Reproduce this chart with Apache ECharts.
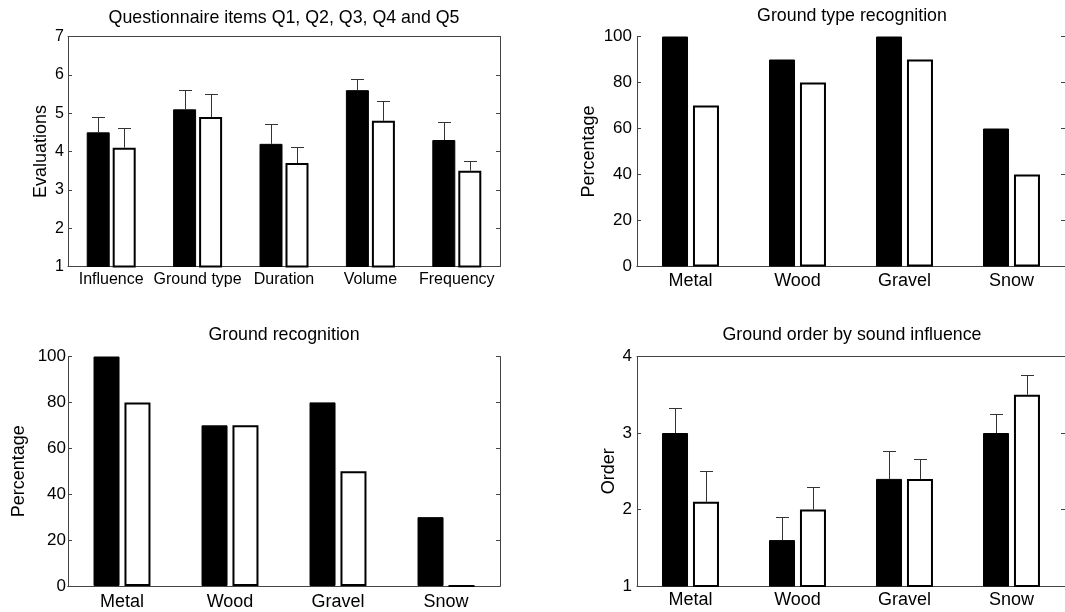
<!DOCTYPE html>
<html><head><meta charset="utf-8">
<script src="https://cdn.jsdelivr.net/npm/echarts@6/dist/echarts.min.js"></script>
<style>html,body{margin:0;padding:0;background:#fff}#c{width:1065px;height:612px}</style>
</head><body><div id="c"></div>
<script>
// ---- data ----
const q5Categories = ['Influence', 'Ground type', 'Duration', 'Volume', 'Frequency'];
const q5Black = [4.5, 5.1, 4.2, 5.6, 4.3];
const q5BlackErr = [0.4, 0.5, 0.52, 0.3, 0.48];
const q5White = [4.1, 4.9, 3.7, 4.8, 3.5];
const q5WhiteErr = [0.52, 0.6, 0.43, 0.53, 0.25];

const grounds = ['Metal', 'Wood', 'Gravel', 'Snow'];
const typeRecBlack = [100, 90, 100, 60];
const typeRecWhite = [70, 80, 90, 40];
const groundRecBlack = [100, 70, 80, 30];
const groundRecWhite = [80, 70, 50, 0];
const orderBlack = [3.0, 1.6, 2.4, 3.0];
const orderBlackErr = [0.33, 0.3, 0.37, 0.25];
const orderWhite = [2.1, 2.0, 2.4, 3.5];
const orderWhiteErr = [0.4, 0.29, 0.26, 0.26];

const panelTitles = ['Questionnaire items Q1, Q2, Q3, Q4 and Q5', 'Ground type recognition', 'Ground recognition', 'Ground order by sound influence'];
const yNames = ['Evaluations', 'Percentage', 'Percentage', 'Order'];
const yMin = [1, 0, 0, 1];
const yMax = [7, 100, 100, 4];
const yInterval = [1, 20, 20, 1];

// ---- layout / style ----
const FONT = '"Liberation Sans", Arial, Helvetica, sans-serif';
const AX = '#444';
const grids = [
  {left: 68, top: 36.5, width: 432, height: 230},
  {left: 637, top: 36.5, width: 430, height: 230},
  {left: 68, top: 356.5, width: 432, height: 229.5},
  {left: 637, top: 356.5, width: 430, height: 229.5}
];
const barW = [23, 26, 26, 26];
const barGapPct = [13, 19, 19, 19];
const xLabelSize = [16, 18, 18, 18];
const xLabelMargin = [5, 6, 7, 5];
const yLabelSize = [16, 17, 17, 17];
const yLabelMargin = [4, 5, 2, 5];
const nameGaps = [18, 39, 40, 19];
const titleTops = [9, 7.5, 326.5, 326.5];

const cats = [q5Categories, grounds, grounds, grounds];
const blacks = [q5Black, typeRecBlack, groundRecBlack, orderBlack];
const whites = [q5White, typeRecWhite, groundRecWhite, orderWhite];
const blackErrs = [q5BlackErr, null, null, orderBlackErr];
const whiteErrs = [q5WhiteErr, null, null, orderWhiteErr];

const xAxes = [], yAxes = [], series = [], titles = [];

function errRenderer(sign, w, gapPx) {
  return function (params, api) {
    const i = api.value(0);
    const base = api.coord([i, api.value(1)]);
    const top = api.coord([i, api.value(2)]);
    const cx = Math.round(base[0] + sign * (w + gapPx) / 2) + 0.5;
    const ty = Math.round(top[1]) + 0.5;
    const st = {stroke: '#333', lineWidth: 1};
    return {type: 'group', children: [
      {type: 'line', shape: {x1: cx, y1: base[1], x2: cx, y2: ty}, style: st},
      {type: 'line', shape: {x1: cx - 6.5, y1: ty, x2: cx + 6.5, y2: ty}, style: st}
    ]};
  };
}

grids.forEach((g, k) => {
  const cx = g.left + g.width / 2;
  titles.push({text: panelTitles[k], left: cx, top: titleTops[k], textAlign: 'center', padding: 0,
    textStyle: {fontFamily: FONT, fontSize: 17.8, fontWeight: 'normal', color: '#000'}});
  const lineStyle = {color: AX, width: 1};
  xAxes.push({gridIndex: k, type: 'category', data: cats[k], position: 'bottom',
    axisLine: {lineStyle}, axisTick: {inside: true, length: 4, alignWithLabel: true, lineStyle},
    axisLabel: {fontFamily: FONT, fontSize: xLabelSize[k], color: '#000', margin: xLabelMargin[k], interval: 0},
    splitLine: {show: false}});
  xAxes.push({gridIndex: k, type: 'category', data: cats[k], position: 'top',
    axisLine: {lineStyle}, axisTick: {inside: true, length: 4, alignWithLabel: true, lineStyle},
    axisLabel: {show: false}, splitLine: {show: false}});
  yAxes.push({gridIndex: k, type: 'value', min: yMin[k], max: yMax[k], interval: yInterval[k], position: 'left',
    name: yNames[k], nameLocation: 'middle', nameGap: nameGaps[k],
    nameTextStyle: {fontFamily: FONT, fontSize: 18, color: '#000'},
    axisLine: {show: true, lineStyle}, axisTick: {show: true, inside: true, length: 4, lineStyle},
    axisLabel: {fontFamily: FONT, fontSize: yLabelSize[k], color: '#000', margin: yLabelMargin[k]},
    splitLine: {show: false}});
  yAxes.push({gridIndex: k, type: 'value', min: yMin[k], max: yMax[k], interval: yInterval[k], position: 'right',
    axisLine: {show: true, lineStyle}, axisTick: {show: true, inside: true, length: 4, lineStyle},
    axisLabel: {show: false}, splitLine: {show: false}});
  const xi = 2 * k, yi = 2 * k;
  series.push({type: 'bar', xAxisIndex: xi, yAxisIndex: yi, data: blacks[k], barWidth: barW[k], barGap: barGapPct[k] + '%',
    itemStyle: {color: '#000', borderColor: '#000', borderWidth: 1}, silent: true});
  series.push({type: 'bar', xAxisIndex: xi, yAxisIndex: yi, data: whites[k], barWidth: barW[k], barGap: barGapPct[k] + '%',
    itemStyle: {color: '#fff', borderColor: '#000', borderWidth: 2}, silent: true});
  const gapPx = barW[k] * barGapPct[k] / 100;
  if (blackErrs[k]) {
    series.push({type: 'custom', xAxisIndex: xi, yAxisIndex: yi, clip: false, silent: true, z: 5,
      data: blacks[k].map((v, i) => [i, v, v + blackErrs[k][i]]),
      encode: {x: 0, y: [1, 2]}, renderItem: errRenderer(-1, barW[k], gapPx)});
    series.push({type: 'custom', xAxisIndex: xi, yAxisIndex: yi, clip: false, silent: true, z: 5,
      data: whites[k].map((v, i) => [i, v, v + whiteErrs[k][i]]),
      encode: {x: 0, y: [1, 2]}, renderItem: errRenderer(1, barW[k], gapPx)});
  }
});

const chart = echarts.init(document.getElementById('c'), null, {renderer: 'canvas'});
chart.setOption({
  animation: false,
  backgroundColor: '#fff',
  title: titles,
  grid: grids.map(g => Object.assign({containLabel: false}, g)),
  xAxis: xAxes,
  yAxis: yAxes,
  series: series
});
</script>
</body></html>
